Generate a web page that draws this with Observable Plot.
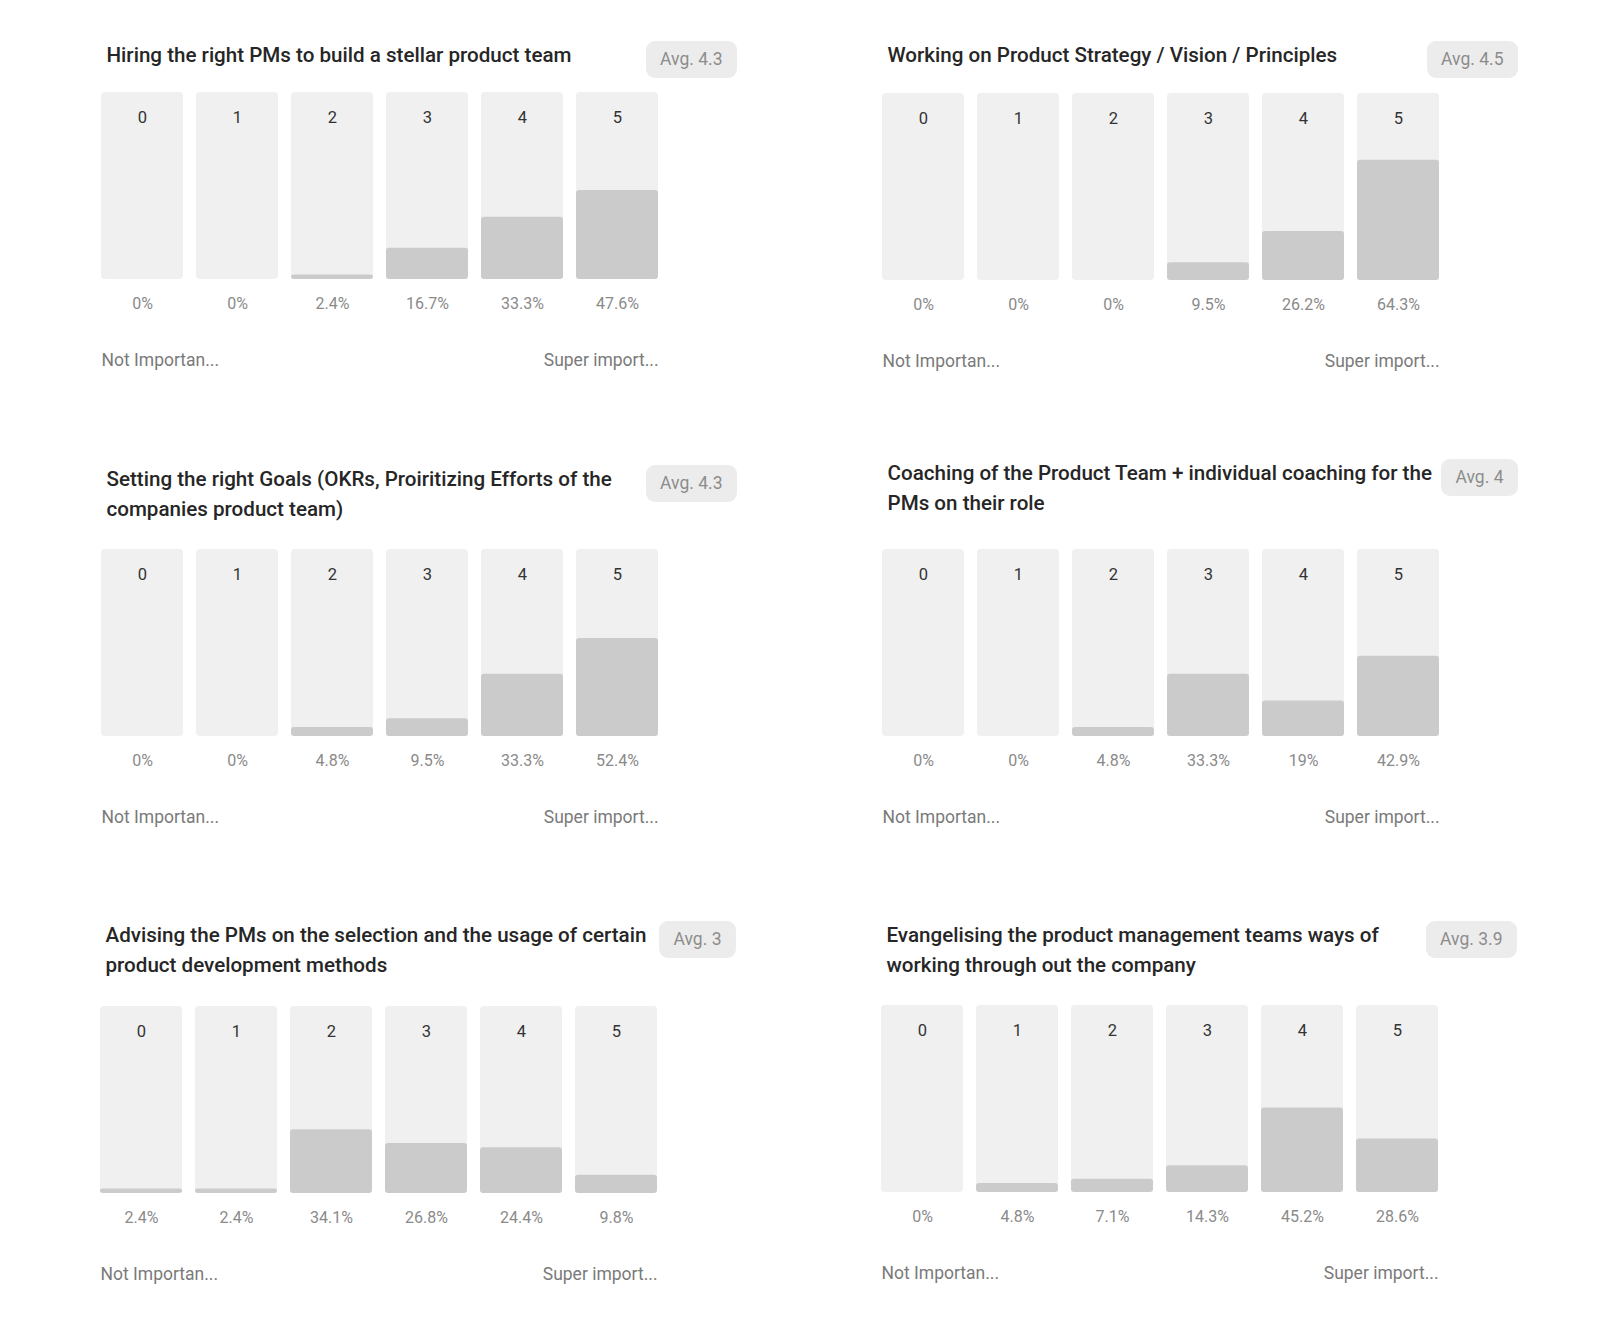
<!DOCTYPE html>
<html><head><meta charset="utf-8">
<script src="https://cdn.jsdelivr.net/npm/d3@7"></script>
<script src="https://cdn.jsdelivr.net/npm/@observablehq/plot@0.6"></script>
<style>
body{margin:0;background:#fff;font-family:Roboto,"Noto Sans",sans-serif;}
#root{position:relative;width:1600px;height:1339px;overflow:hidden;}
.panel{position:absolute;}
.title{position:absolute;font-size:20.6px;line-height:30px;color:#262626;font-weight:500;white-space:pre;}
.badge{position:absolute;height:37px;line-height:37px;padding:0 14.5px;border-radius:9px;background:#ececec;color:#8c8c8c;font-size:17.5px;white-space:nowrap;}
.panel svg{display:block;overflow:visible;}
</style>
</head><body><div id="root"></div>
<script>
// ---- data ----
const scores = ["0", "1", "2", "3", "4", "5"];
const titles = [
  "Hiring the right PMs to build a stellar product team",
  "Working on Product Strategy / Vision / Principles",
  "Setting the right Goals (OKRs, Proiritizing Efforts of the\ncompanies product team)",
  "Coaching of the Product Team + individual coaching for the\nPMs on their role",
  "Advising the PMs on the selection and the usage of certain\nproduct development methods",
  "Evangelising the product management teams ways of\nworking through out the company"
];
const averages = ["4.3", "4.5", "4.3", "4", "3", "3.9"];
const hiringPMs = [0, 0, 2.4, 16.7, 33.3, 47.6];
const strategy = [0, 0, 0, 9.5, 26.2, 64.3];
const goals = [0, 0, 4.8, 9.5, 33.3, 52.4];
const coaching = [0, 0, 4.8, 33.3, 19, 42.9];
const advising = [2.4, 2.4, 34.1, 26.8, 24.4, 9.8];
const evangelising = [0, 4.8, 7.1, 14.3, 45.2, 28.6];
const lowLabel = "Not Importan...";
const highLabel = "Super import...";

const series = [hiringPMs, strategy, goals, coaching, advising, evangelising];

// ---- layout: panel left, bar-area top, title first-line centre ----
const panelX = [101, 882, 101, 882, 100, 881];
const barTop = [92, 93, 549, 549, 1006, 1005];
const titleY = [55, 55, 479, 473, 935, 935];
const PW = 557, BH = 187;

const root = document.getElementById("root");
series.forEach((vals, i) => {
  const t = document.createElement("div");
  t.className = "title";
  t.style.left = (panelX[i] + 5.5) + "px";
  t.style.top = (titleY[i] - 15) + "px";
  t.textContent = titles[i];
  root.appendChild(t);

  const b = document.createElement("div");
  b.className = "badge";
  b.style.right = (1600 - (panelX[i] + 636)) + "px";
  b.style.top = (titleY[i] - 14.5) + "px";
  b.textContent = "Avg. " + averages[i];
  root.appendChild(b);

  const panel = document.createElement("div");
  panel.className = "panel";
  panel.style.left = panelX[i] + "px";
  panel.style.top = barTop[i] + "px";

  const data = scores.map((s, j) => ({score: s, value: vals[j]}));
  const chart = Plot.plot({
    width: PW, height: BH + 100,
    marginTop: 0, marginLeft: 0, marginRight: 0, marginBottom: 100,
    x: {domain: scores, paddingInner: 0.137, paddingOuter: 0, axis: null},
    y: {domain: [0, 100], axis: null},
    style: {fontFamily: "Roboto, 'Noto Sans', sans-serif", background: "transparent", overflow: "visible"},
    marks: [
      Plot.barY(data, {x: "score", y: () => 100, fill: "#f0f0f0", rx: 4}),
      Plot.barY(data, {x: "score", y: "value", fill: "#cbcbcb", rx: 3}),
      Plot.text(data, {x: "score", y: () => 100, dy: 25, text: "score", fill: "#333", fontSize: 16.5}),
      Plot.text(data, {x: "score", y: () => 0, dy: 24, text: d => d.value + "%", fill: "#8a8a8a", fontSize: 16}),
      Plot.text([lowLabel], {frameAnchor: "bottom-left", dy: 86.5, text: d => d, fill: "#7a7a7a", fontSize: 17.5}),
      Plot.text([highLabel], {frameAnchor: "bottom-right", dy: 86.5, text: d => d, fill: "#7a7a7a", fontSize: 17.5})
    ]
  });
  panel.appendChild(chart);
  root.appendChild(panel);
});
</script>
</body></html>
